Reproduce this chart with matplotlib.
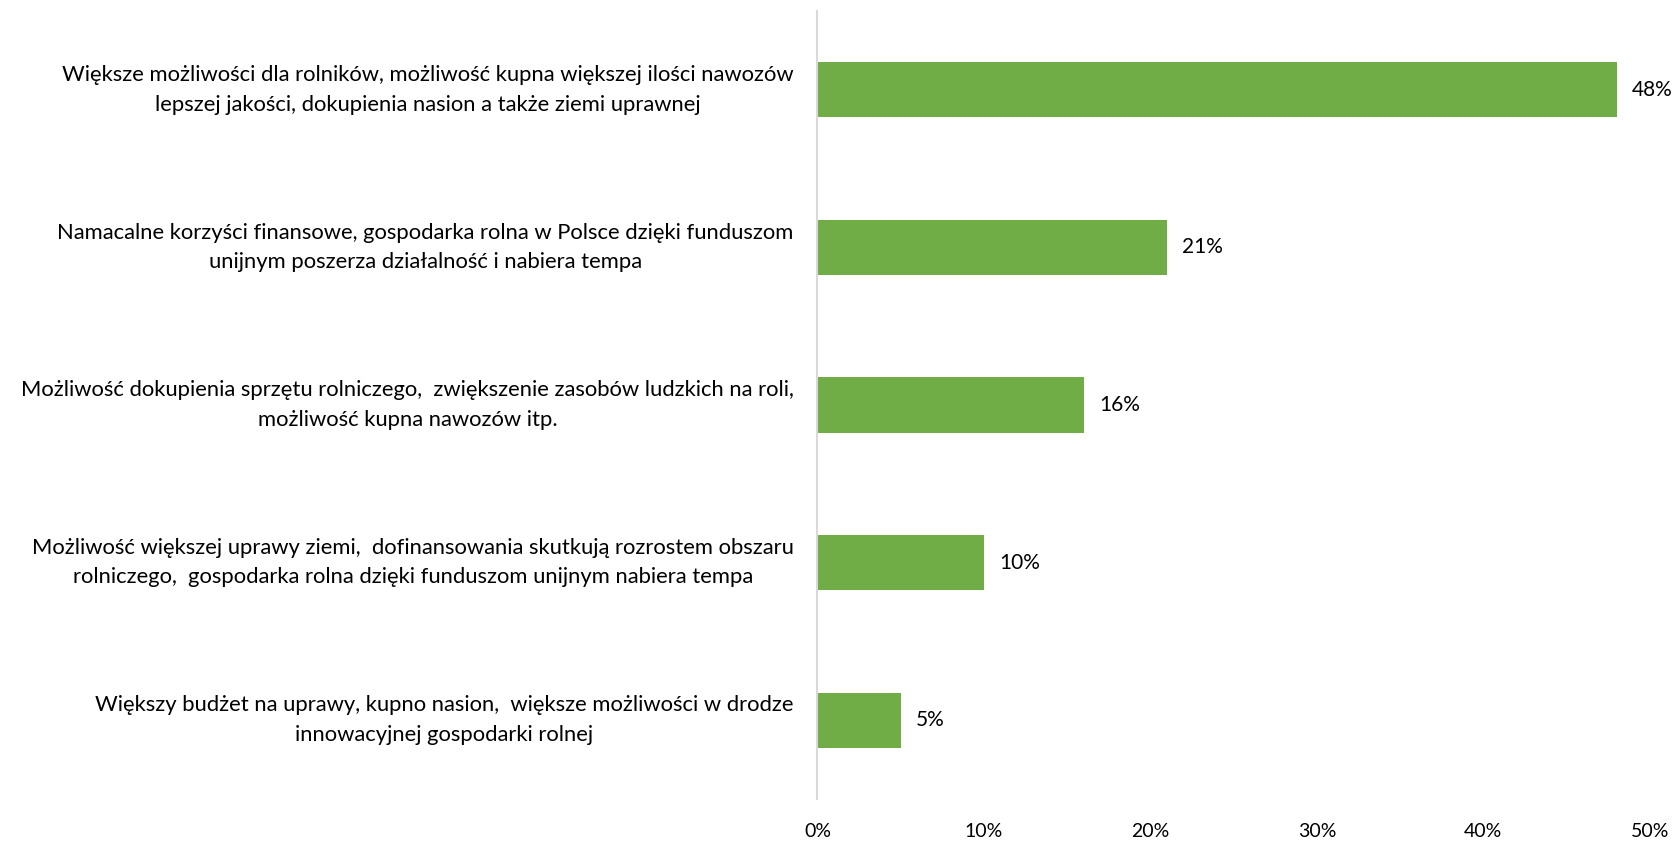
import matplotlib
matplotlib.use("Agg")
import matplotlib.pyplot as plt
from matplotlib.ticker import FuncFormatter

categories = [
    "Większe możliwości dla rolników, możliwość kupna większej ilości nawozów\nlepszej jakości, dokupienia nasion a także ziemi uprawnej",
    "Namacalne korzyści finansowe, gospodarka rolna w Polsce dzięki funduszom\nunijnym poszerza działalność i nabiera tempa",
    "Możliwość dokupienia sprzętu rolniczego,  zwiększenie zasobów ludzkich na roli,\nmożliwość kupna nawozów itp.",
    "Możliwość większej uprawy ziemi,  dofinansowania skutkują rozrostem obszaru\nrolniczego,  gospodarka rolna dzięki funduszom unijnym nabiera tempa",
    "Większy budżet na uprawy, kupno nasion,  większe możliwości w drodze\ninnowacyjnej gospodarki rolnej",
]
values = [48, 21, 16, 10, 5]
ticks = [0, 10, 20, 30, 40, 50]

plt.rcParams['font.family'] = ['Lato', 'DejaVu Sans']

fig = plt.figure(figsize=(16.75, 8.41), dpi=100)
ax = fig.add_axes([0.488, 0.05, 0.497, 0.937])

pos = list(range(len(values)))
ax.barh(pos, values, height=0.35, color='#70AD47')
ax.set_ylim(len(values) - 0.5, -0.5)
ax.set_xlim(0, 50)

for p, v in zip(pos, values):
    ax.text(v + 0.9, p, f"{v}%", va='center', ha='left', fontsize=15, color='#000000')

ax.set_yticks(pos)
ax.set_yticklabels(categories, fontsize=15.8, ha='right', ma='center', linespacing=1.6)
for lbl in ax.get_yticklabels():
    lbl.set_va('center')
ax.tick_params(axis='y', length=0, pad=17)
ax.set_xticks(ticks)
ax.xaxis.set_major_formatter(FuncFormatter(lambda x, _: f"{x:.0f}%"))
ax.tick_params(axis='x', length=0, labelsize=14, pad=17)

for s in ['top', 'right', 'bottom']:
    ax.spines[s].set_visible(False)
ax.spines['left'].set_color('#D9D9D9')
ax.spines['left'].set_linewidth(1.5)

fig.savefig("out.png", dpi=100)
